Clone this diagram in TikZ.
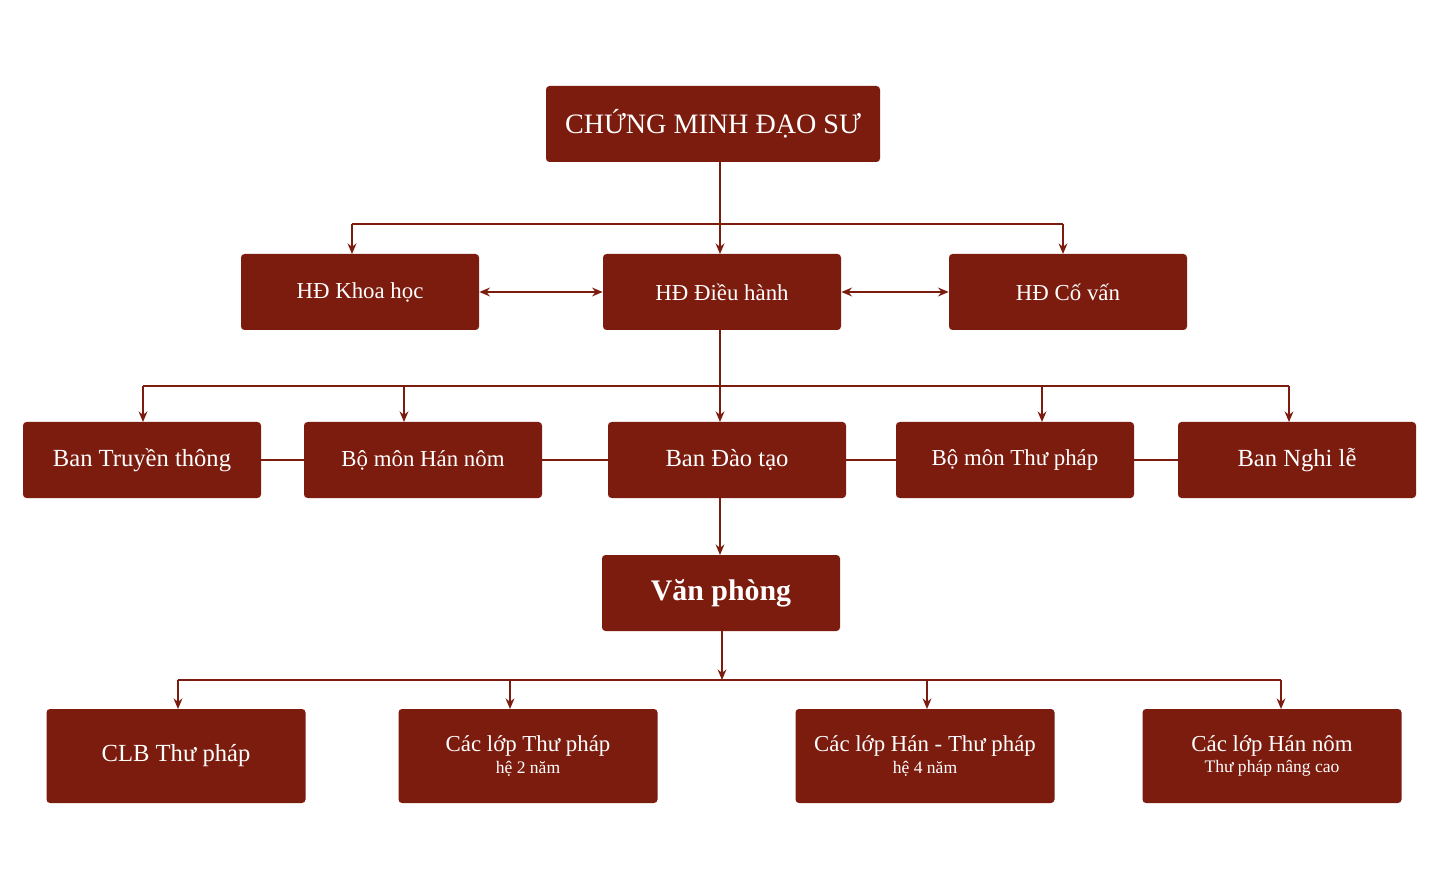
\documentclass[tikz,border=0pt]{standalone}
\usepackage{fontspec}
\setmainfont{Liberation Serif}
\usetikzlibrary{arrows.meta}
\definecolor{dr}{HTML}{7B1C0E}
\begin{document}
\begin{tikzpicture}[x=0.02cm,y=-0.02cm,
 box/.style={fill=dr,draw=none,rounded corners=2pt,text=white,align=center,inner sep=0pt},
 ln/.style={draw=dr,line width=1.3pt},
 ar/.style={ln,-{Stealth[length=6pt,width=5pt]}},
 dar/.style={ln,{Stealth[length=6pt,width=5pt]}-{Stealth[length=6pt,width=5pt]}}]
\useasboundingbox (0,0) rectangle (1442,884);
\newcommand{\bx}[6]{\node[box,minimum width=#4*0.02cm,minimum height=#5*0.02cm] (#1) at (#2,#3) {#6};}
\bx{top}{713}{124}{334}{76}{\fontsize{16}{18}\selectfont CHỨNG MINH ĐẠO SƯ}
\bx{kh}{360}{292}{238}{76}{\fontsize{13}{15}\selectfont HĐ Khoa học}
\bx{dh}{722}{292}{238}{76}{\fontsize{13}{15}\selectfont HĐ Điều hành}
\bx{cv}{1068}{292}{238}{76}{\fontsize{13}{15}\selectfont HĐ Cố vấn}
\bx{tt}{142}{460}{238}{76}{\fontsize{14}{16}\selectfont Ban Truyền thông}
\bx{hn}{423}{460}{238}{76}{\fontsize{13}{15}\selectfont Bộ môn Hán nôm}
\bx{dt}{727}{460}{238}{76}{\fontsize{14}{16}\selectfont Ban Đào tạo}
\bx{tp}{1015}{460}{238}{76}{\fontsize{13}{15}\selectfont Bộ môn Thư pháp}
\bx{nl}{1297}{460}{238}{76}{\fontsize{14}{16}\selectfont Ban Nghi lễ}
\bx{vp}{721}{593}{238}{76}{\fontsize{17}{19}\selectfont\bfseries Văn phòng}
\bx{clb}{176}{756}{259}{94}{\fontsize{14}{16}\selectfont CLB Thư pháp}
\bx{l2}{528}{756}{259}{94}{\fontsize{13}{15}\selectfont Các lớp Thư pháp\\hệ 2 năm}
\bx{l4}{925}{756}{259}{94}{\fontsize{13}{15}\selectfont Các lớp Hán - Thư pháp\\hệ 4 năm}
\bx{lnc}{1272}{756}{259}{94}{\fontsize{13}{15}\selectfont Các lớp Hán nôm\\Thư pháp nâng cao}
% level 1
\draw[ar] (720,162) -- (720,254);
\draw[ln] (352,224) -- (1063,224);
\draw[ar] (352,224) -- (352,254);
\draw[ar] (1063,224) -- (1063,254);
\draw[dar] (kh.east) -- (dh.west);
\draw[dar] (dh.east) -- (cv.west);
% level 2
\draw[ar] (720,330) -- (720,422);
\draw[ln] (143,386) -- (1289,386);
\foreach \x in {143,404,1042,1289} \draw[ar] (\x,386) -- (\x,422);
\draw[ln] (tt.east) -- (hn.west);
\draw[ln] (hn.east) -- (dt.west);
\draw[ln] (dt.east) -- (tp.west);
\draw[ln] (tp.east) -- (nl.west);
\draw[ar] (720,498) -- (720,555);
% level 3
\draw[ar] (722,631) -- (722,680);
\draw[ln] (178,680) -- (1281,680);
\foreach \x in {178,510,927,1281} \draw[ar] (\x,680) -- (\x,709);
\end{tikzpicture}
\end{document}
